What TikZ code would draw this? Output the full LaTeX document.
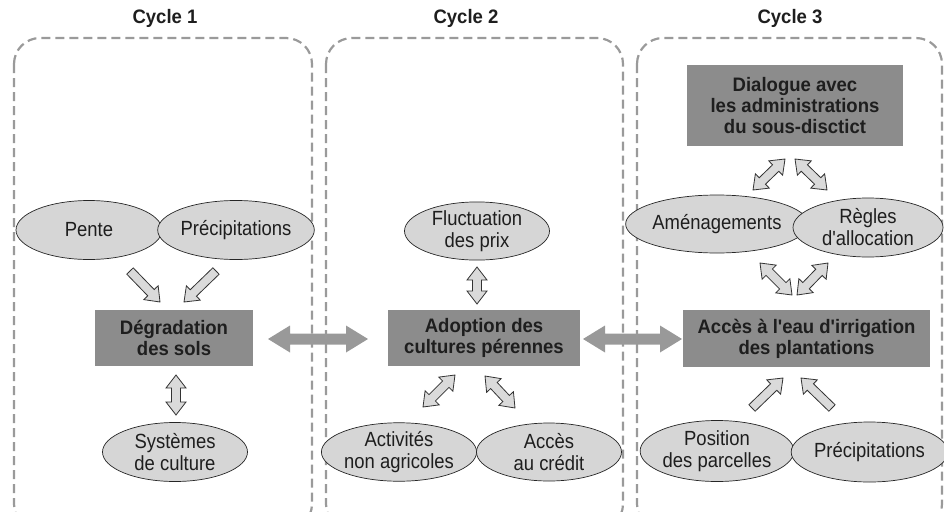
\documentclass[tikz,border=0pt]{standalone}
\usepackage{fontspec}
\setmainfont{Liberation Sans}[Ligatures=TeXOff]
\newfontfamily\regf{Liberation Sans}[Ligatures=TeXOff, FakeStretch=0.9]
\newfontfamily\boldf{Liberation Sans Bold}[Ligatures=TeXOff, FakeStretch=0.95]
\usetikzlibrary{calc,shapes.geometric}
\definecolor{panelgray}{HTML}{9A9A9A}
\definecolor{boxgray}{HTML}{8C8C8C}
\definecolor{ellgray}{HTML}{D6D6D6}
\definecolor{arrgray}{HTML}{DADADA}
\definecolor{bigarr}{HTML}{999999}
\definecolor{txt}{HTML}{1E1E1E}
% single block arrow: #1 style, #2 start, #3 tip, #4 shaft half width, #5 head half width, #6 head length
\newcommand\sarr[6]{%
  \coordinate (hb) at ($(#3)!#6!(#2)$);
  \draw[#1] ($(#2)!#4!90:(#3)$) -- ($(hb)!#4!90:(#3)$) -- ($(hb)!#5!90:(#3)$) -- (#3)
    -- ($(hb)!#5!-90:(#3)$) -- ($(hb)!#4!-90:(#3)$) -- ($(#2)!#4!-90:(#3)$) -- cycle;}
% double block arrow
\newcommand\darr[6]{%
  \coordinate (ha) at ($(#2)!#6!(#3)$);
  \coordinate (hb) at ($(#3)!#6!(#2)$);
  \draw[#1] (#2) -- ($(ha)!#5!90:(#3)$) -- ($(ha)!#4!90:(#3)$) -- ($(hb)!#4!90:(#3)$)
    -- ($(hb)!#5!90:(#3)$) -- (#3) -- ($(hb)!#5!-90:(#3)$) -- ($(hb)!#4!-90:(#3)$)
    -- ($(ha)!#4!-90:(#3)$) -- ($(ha)!#5!-90:(#3)$) -- cycle;}
\tikzset{
  panel/.style={draw=panelgray, line width=2.2pt, dash pattern=on 9pt off 5pt, rounded corners=26pt},
  title/.style={font=\boldf\fontsize{19.5}{21}\selectfont, text=txt},
  dbox/.style={rectangle, fill=boxgray, inner sep=0pt, font=\boldf\fontsize{19.5}{21}\selectfont, text=txt, align=center},
  ell/.style={ellipse, draw=black!85, line width=0.7pt, fill=ellgray, inner sep=0pt, font=\regf\fontsize{20.5}{22}\selectfont, text=txt, align=center},
  hollow/.style={draw=black!80, line width=0.8pt, fill=arrgray, line join=miter},
  bigar/.style={fill=bigarr, draw=none}
}
\begin{document}
\begin{tikzpicture}[x=1pt, y=-1pt]
\useasboundingbox (0,0) rectangle (944,511);

% big gray double arrows (under the panels)
\coordinate (b1a) at (268,339); \coordinate (b1b) at (368,339);
\coordinate (b2a) at (583,339); \coordinate (b2b) at (682,339);
\darr{bigar}{b1a}{b1b}{5.5pt}{13.5pt}{22pt}
\darr{bigar}{b2a}{b2b}{5.5pt}{13.5pt}{22pt}

% panels
\draw[panel] (14,38) rectangle (312,530);
\draw[panel] (326,38) rectangle (623,530);
\draw[panel] (637,38) rectangle (942,530);

% titles
\node[title] (t1) at (165,18) {Cycle 1};
\node[title] (t2) at (466,18) {Cycle 2};
\node[title] (t3) at (790,18) {Cycle 3};

% Cycle 1
\node[ell, minimum width=146pt, minimum height=59pt] (pente) at (89,230) {Pente};
\node[ell, minimum width=147pt, minimum height=59pt] (prec1) at (236,230) {Précipitations};
\node[dbox, minimum width=158pt, minimum height=56pt] (deg) at (174,338) {Dégradation\\des sols};
\node[ell, minimum width=145pt, minimum height=59pt] (syst) at (175,452) {Systèmes\\de culture};

% Cycle 2
\node[ell, minimum width=145pt, minimum height=58pt] (fluct) at (477,231) {Fluctuation\\des prix};
\node[dbox, minimum width=192pt, minimum height=56pt] (adop) at (484,338) {Adoption des\\cultures pérennes};
\node[ell, minimum width=145pt, minimum height=58pt] (activ) at (399,452) {Activités\\non agricoles};
\node[ell, minimum width=145pt, minimum height=58pt] (cred) at (549,452) {Accès\\au crédit};

% Cycle 3
\node[dbox, minimum width=216pt, minimum height=81pt] (dial) at (795,105.5) {Dialogue avec\\les administrations\\du sous-disctict};
\node[ell, minimum width=150pt, minimum height=58pt] (amen) at (717,224) {Aménagements};
\node[ell, minimum width=150pt, minimum height=59pt] (regl) at (868,227.5) {Règles\\d'allocation};
\node[dbox, minimum width=247pt, minimum height=57pt] (acces) at (806.5,338.5) {Accès à l'eau d'irrigation\\des plantations};
\node[ell, minimum width=150pt, minimum height=61pt] (posit) at (717,451) {Position\\des parcelles};
\node[ell, minimum width=145pt, minimum height=60pt] (prec3) at (869.5,452) {Précipitations};

% hollow arrows
\coordinate (a1s) at (130,271); \coordinate (a1e) at (160,302);
\coordinate (a2s) at (216,271); \coordinate (a2e) at (184,302);
\sarr{hollow}{a1s}{a1e}{4.5pt}{10pt}{13pt}
\sarr{hollow}{a2s}{a2e}{4.5pt}{10pt}{13pt}
\coordinate (a3s) at (176,375); \coordinate (a3e) at (176,415);
\darr{hollow}{a3s}{a3e}{4.5pt}{10pt}{13pt}

\coordinate (a4s) at (477,267); \coordinate (a4e) at (477,304);
\darr{hollow}{a4s}{a4e}{4.5pt}{10pt}{13pt}
\coordinate (a5s) at (455,375); \coordinate (a5e) at (423,407);
\darr{hollow}{a5s}{a5e}{4.5pt}{10pt}{13pt}
\coordinate (a6s) at (485,376); \coordinate (a6e) at (515,408);
\darr{hollow}{a6s}{a6e}{4.5pt}{10pt}{13pt}

\coordinate (a7s) at (785,159); \coordinate (a7e) at (753,190);
\darr{hollow}{a7s}{a7e}{4.5pt}{10pt}{13pt}
\coordinate (a8s) at (795,159); \coordinate (a8e) at (827,190);
\darr{hollow}{a8s}{a8e}{4.5pt}{10pt}{13pt}
\coordinate (a9s) at (760,263); \coordinate (a9e) at (792,295);
\darr{hollow}{a9s}{a9e}{4.5pt}{10pt}{13pt}
\coordinate (a10s) at (828,263); \coordinate (a10e) at (797,295);
\darr{hollow}{a10s}{a10e}{4.5pt}{10pt}{13pt}
\coordinate (a11s) at (752,408); \coordinate (a11e) at (783,378);
\sarr{hollow}{a11s}{a11e}{4.5pt}{10pt}{13pt}
\coordinate (a12s) at (832,408); \coordinate (a12e) at (801,378);
\sarr{hollow}{a12s}{a12e}{4.5pt}{10pt}{13pt}
\end{tikzpicture}
\end{document}
